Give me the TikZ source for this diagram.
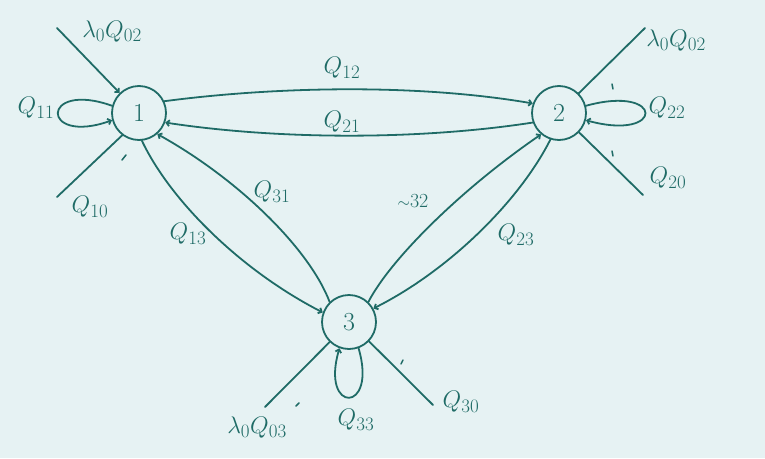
\RequirePackage{fix-cm}
\documentclass[tikz,border=0pt]{standalone}
\usetikzlibrary{arrows.meta}
\definecolor{bgc}{HTML}{E6F2F3}
\definecolor{ink}{HTML}{1F6B66}
\newcommand\subsz[1]{\mbox{\fontsize{19}{21}\selectfont #1}}
\newcommand\qlab[1]{$Q_{\subsz{#1}}$}
\newcommand\lqlab[1]{$\lambda_{\subsz{0}}Q_{\subsz{#1}}$}
\begin{document}
\begin{tikzpicture}[x=1pt,y=-1pt,
  state/.style={circle,draw=ink,line width=1.8pt,minimum size=54pt,inner sep=0pt,text=ink,font=\fontsize{26}{28}\selectfont},
  edge/.style={draw=ink,line width=1.8pt,line cap=round},
  arr/.style={-{Straight Barb[length=3pt,width=6pt]}},
  tick/.style={draw=ink,line width=1.5pt,line cap=round},
  lab/.style={text=ink,font=\fontsize{24}{26}\selectfont,inner sep=0pt}]
\fill[bgc] (0,0) rectangle (765,458);
\useasboundingbox (0,0) rectangle (765,458);
\node[state] (n1) at (139,113) {1};
\node[state] (n2) at (559,113) {2};
\node[state] (n3) at (349,322) {3};
% externals
\coordinate (e1a) at (57,28);
\coordinate (e1b) at (57,197);
\coordinate (e2a) at (645,28);
\coordinate (e2b) at (643,195);
\coordinate (e3a) at (265,407);
\coordinate (e3b) at (433,405);
% node 1
\draw[edge,arr] (e1a) -- (n1.134);
\draw[edge,arr] (n1.165) .. controls (40,80) and (40,146) .. (n1.195);
\draw[edge] (n1.233) -- (e1b);
% 1 <-> 2
\draw[edge,arr] (n1.25) .. controls (280,86) and (420,84) .. (n2.160);
\draw[edge,arr] (n2.200) .. controls (420,140) and (280,140) .. (n1.-20);
% 1 <-> 3
\draw[edge,arr] (n1.-84) .. controls (170,200) and (240,270) .. (n3.160);
\draw[edge,arr] (n3.134) .. controls (310,250) and (240,180) .. (n1.-49);
% 2 <-> 3
\draw[edge,arr] (n3.46) .. controls (390,260) and (460,190) .. (n2.230);
\draw[edge,arr] (n2.252) .. controls (520,200) and (450,270) .. (n3.29);
% node 2
\draw[edge] (n2.45) -- (e2a);
\draw[edge,arr] (n2.15) .. controls (665,84) and (665,142) .. (n2.-15);
\draw[edge] (n2.-44) -- (e2b);
% node 3
\draw[edge] (n3.226) -- (e3a);
\draw[edge,arr] (n3.290) .. controls (378,414) and (320,414) .. (n3.250);
\draw[edge] (n3.-44) -- (e3b);
% stray ticks
\draw[tick] (122,160) -- (126,155);
\draw[tick] (612,84) -- (613,89);
\draw[tick] (612,151) -- (613,156);
\draw[tick] (296,406) -- (299,403);
\draw[tick] (401,364) -- (403,360);
% labels
\node[lab] (l1) at (112,31) {\lqlab{02}};
\node[lab] (l2) at (36,108) {\qlab{11}};
\node[lab] (l3) at (90,207) {\qlab{10}};
\node[lab] (l4) at (342,68) {\qlab{12}};
\node[lab] (l5) at (342,122) {\qlab{21}};
\node[lab] (l6) at (188,234) {\qlab{13}};
\node[lab] (l7) at (272,192) {\qlab{31}};
\node[lab] (l8) at (413,201) {{\fontsize{16}{18}\selectfont$\sim$}\fontsize{20}{22}\selectfont 32};
\node[lab] (l9) at (516,235) {\qlab{23}};
\node[lab] (l10) at (676,40) {\lqlab{02}};
\node[lab] (l11) at (667,108) {\qlab{22}};
\node[lab] (l12) at (668,178) {\qlab{20}};
\node[lab] (l13) at (257,427) {\lqlab{03}};
\node[lab] (l14) at (356,420) {\qlab{33}};
\node[lab] (l15) at (461,402) {\qlab{30}};
\end{tikzpicture}
\end{document}
